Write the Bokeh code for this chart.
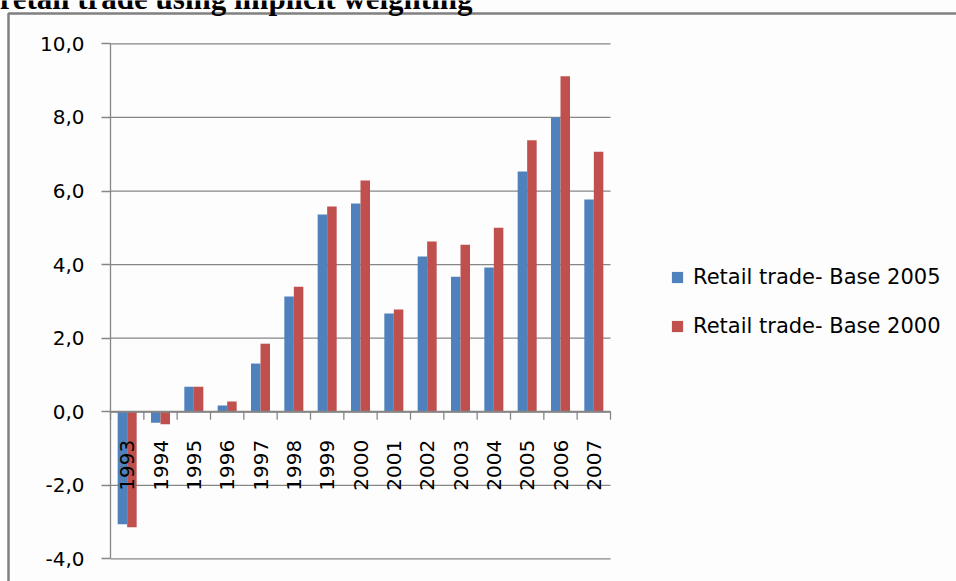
import numpy as np
from bokeh.plotting import figure
from bokeh.models import (Range1d, FixedTicker, CustomJSTickFormatter, LinearAxis,
                          Legend, LegendItem, Label, BoxAnnotation)
from bokeh.core.properties import value
from bokeh.embed import file_html
from bokeh.resources import INLINE

# ---- data ----
years = ["1993", "1994", "1995", "1996", "1997", "1998", "1999", "2000",
         "2001", "2002", "2003", "2004", "2005", "2006", "2007"]
base_2005 = [-3.06, -0.30, 0.68, 0.17, 1.31, 3.13, 5.36, 5.66,
             2.67, 4.22, 3.67, 3.92, 6.53, 8.00, 5.77]
base_2000 = [-3.14, -0.34, 0.68, 0.28, 1.85, 3.40, 5.58, 6.29,
             2.78, 4.63, 4.54, 5.00, 7.38, 9.12, 7.07]
series_names = ["Retail trade- Base 2005", "Retail trade- Base 2000"]
y_ticks = [-4, -2, 0, 2, 4, 6, 8, 10]
title_text = "retail trade using implicit weighting"

BLUE = "#4F81BD"
RED = "#C0504D"
GRID = "#868686"
FONT = "DejaVu Sans"
BG = "#FDFDFD"

# ---- layout (pixels) ----
W, H = 956, 581
PLOT_L, PLOT_R, PLOT_T, PLOT_B = 110, 610, 43.4, 558.4

n = len(years)
xs = np.arange(n)
ymin, ymax = min(y_ticks), max(y_ticks)
px_x = (PLOT_R - PLOT_L) / n
px_y = (PLOT_B - PLOT_T) / (ymax - ymin)
x0 = -0.5 - PLOT_L / px_x
y1 = ymax + PLOT_T / px_y

p = figure(width=W, height=H, output_backend="svg", toolbar_location=None,
           x_range=Range1d(x0, x0 + W / px_x), y_range=Range1d(y1 - H / px_y, y1),
           x_axis_location=None, y_axis_location=None,
           min_border=0)
p.background_fill_color = BG
p.border_fill_color = BG
p.outline_line_color = None
p.xgrid.visible = False
p.ygrid.visible = False

bounds = np.arange(n + 1) - 0.5

# horizontal gridlines across the plot area
p.segment(x0=[bounds[0]] * len(y_ticks), x1=[bounds[-1]] * len(y_ticks),
          y0=y_ticks, y1=y_ticks, line_color=GRID, line_width=1.3)

bw = 0.285
r1 = p.vbar(x=xs - bw / 2, top=base_2005, width=bw, bottom=0, fill_color=BLUE, line_color=None)
r2 = p.vbar(x=xs + bw / 2, top=base_2000, width=bw, bottom=0, fill_color=RED, line_color=None)

# category axis at zero
p.segment(x0=[bounds[0]], x1=[bounds[-1]], y0=[0], y1=[0], line_color=GRID, line_width=2)
p.ray(x=bounds, y=0, length=8, length_units="screen", angle=-np.pi / 2,
      line_color=GRID, line_width=1.3)
p.text(x=xs, y=0, text=years, angle=np.pi / 2, text_align="right", text_baseline="middle",
       y_offset=28, text_font=value(FONT), text_font_size="20px", text_color="#000000")

# value axis
ax = LinearAxis(fixed_location=bounds[0], bounds=(ymin, ymax))
ax.ticker = FixedTicker(ticks=y_ticks)
ax.formatter = CustomJSTickFormatter(code="return tick.toFixed(1).replace('.', ',');")
ax.axis_line_color = GRID
ax.axis_line_width = 1.3
ax.major_tick_line_color = GRID
ax.major_tick_line_width = 1.3
ax.major_tick_out = 9
ax.major_tick_in = 0
ax.minor_tick_line_color = None
ax.major_label_text_font = FONT
ax.major_label_text_font_size = "20px"
ax.major_label_text_color = "#000000"
ax.major_label_standoff = 17
p.add_layout(ax, "left")

legend = Legend(items=[LegendItem(label=series_names[0], renderers=[r1]),
                       LegendItem(label=series_names[1], renderers=[r2])],
                location=(670, 243), orientation="vertical")
legend.glyph_width = 14
legend.glyph_height = 14
legend.label_height = 24
legend.spacing = 25
legend.padding = 0
legend.margin = 0
legend.label_standoff = 9
legend.label_text_font = FONT
legend.label_text_font_size = "21px"
legend.label_text_color = "#000000"
legend.border_line_color = None
legend.background_fill_alpha = 0
p.add_layout(legend)

# chart border (left and top visible)
p.add_layout(BoxAnnotation(left=8, right=W + 50, top=H - 13, bottom=-50,
                           left_units="screen", right_units="screen",
                           top_units="screen", bottom_units="screen",
                           fill_color=None, fill_alpha=0, line_color="#808080",
                           line_alpha=1.0, line_width=2.5))

p.add_layout(Label(x=-1, y=H + 2, x_units="screen", y_units="screen", text=title_text,
                   text_font="Liberation Serif", text_font_style="bold",
                   text_font_size="31px", text_baseline="alphabetic", text_color="#000000"))

open("out.html", "w").write(file_html(p, INLINE))
